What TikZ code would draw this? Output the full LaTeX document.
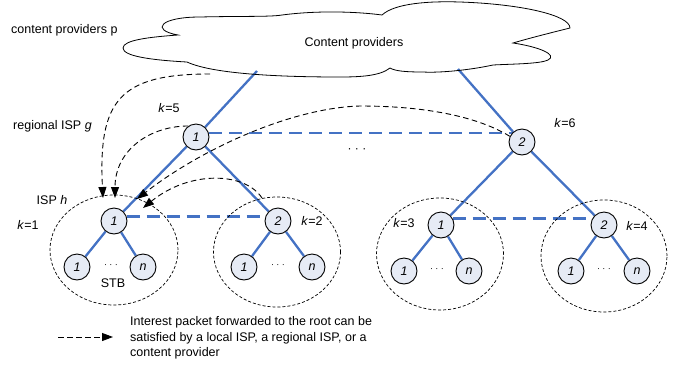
\documentclass[tikz,border=0pt]{standalone}
\usepackage{fontspec}
\setmainfont{Liberation Sans}
\usetikzlibrary{arrows.meta,shapes.geometric,backgrounds}
\definecolor{tblue}{HTML}{4472C4}
\definecolor{nfill}{HTML}{E6EBF5}
\begin{document}
\begin{tikzpicture}[x=1pt,y=-1pt,
  font=\fontsize{12.5}{15.5}\selectfont,
  nd/.style={circle,draw=black,line width=0.9pt,fill=nfill,minimum size=26pt,inner sep=0pt,font=\fontsize{12.5}{15}\selectfont\itshape},
  tree/.style={tblue,line width=2.3pt},
  peer/.style={tblue,line width=2.5pt,dash pattern=on 13pt off 7pt},
  isp/.style={ellipse,draw=black,line width=0.7pt,dash pattern=on 3pt off 2pt,inner sep=0pt},
  fwd/.style={black,line width=0.9pt,dash pattern=on 5.5pt off 3.5pt,-{Triangle[length=11pt,width=8pt]}},
  lbl/.style={inner sep=0pt}]
\useasboundingbox (0,0) rectangle (689,368);

% cloud
\draw[line width=0.8pt] (178,35)
  .. controls (150,30) and (160,17) .. (200,17)
  .. controls (240,16) and (270,17) .. (282,15)
  .. controls (320,10) and (360,12) .. (382,15)
  .. controls (395,3) and (430,1) .. (460,2)
  .. controls (520,4) and (570,15) .. (570,28)
  .. controls (550,33) and (530,38) .. (513,43)
  .. controls (540,47) and (558,55) .. (548,60)
  .. controls (540,64) and (510,64) .. (493,65)
  .. controls (470,70) and (440,73) .. (423,72)
  .. controls (405,72) and (395,71) .. (390,68)
  .. controls (380,76) and (360,77) .. (340,77)
  .. controls (290,77) and (215,75) .. (187,62)
  .. controls (150,60) and (123,56) .. (123,48)
  .. controls (123,40) and (150,37) .. (178,35) -- cycle;
\node[lbl] (cp) at (354,43) {Content providers};
\coordinate (cA) at (257,71);
\coordinate (cB) at (458,69);
\coordinate (cC) at (210,74);

% ISP ellipses
\node[isp,minimum width=128pt,minimum height=110pt] (e1) at (114,250) {};
\node[isp,minimum width=127pt,minimum height=110pt] (e2) at (277,252) {};
\node[isp,minimum width=127pt,minimum height=112pt] (e3) at (440,254) {};
\node[isp,minimum width=126pt,minimum height=112pt] (e4) at (604,256) {};

% nodes
\node[nd] (R1) at (196,137) {1};
\node[nd] (R2) at (522,142) {2};
\node[nd] (L1) at (114,221) {1};
\node[nd] (L2) at (278,221) {2};
\node[nd] (L3) at (441,225) {1};
\node[nd] (L4) at (604,225) {2};
\node[nd] (S11) at (77,267) {1};
\node[nd] (S1n) at (143,267) {n};
\node[nd] (S21) at (244,267) {1};
\node[nd] (S2n) at (312,267) {n};
\node[nd] (S31) at (404,271) {1};
\node[nd] (S3n) at (469,271) {n};
\node[nd] (S41) at (571,271) {1};
\node[nd] (S4n) at (637,271) {n};

\begin{scope}[on background layer]
  \draw[tree] (cA) -- (R1);
  \draw[tree] (cB) -- (R2);
  \draw[tree] (R1) -- (L1);
  \draw[tree] (R1) -- (L2);
  \draw[tree] (R2) -- (L3);
  \draw[tree] (R2) -- (L4);
  \draw[tree] (L1) -- (S11);
  \draw[tree] (L1) -- (S1n);
  \draw[tree] (L2) -- (S21);
  \draw[tree] (L2) -- (S2n);
  \draw[tree] (L3) -- (S31);
  \draw[tree] (L3) -- (S3n);
  \draw[tree] (L4) -- (S41);
  \draw[tree] (L4) -- (S4n);
  \draw[peer] (R1.17) -- (R1.17 -| R2);
  \draw[peer] (L1.20) -- (L1.20 -| L2);
  \draw[peer] (L3.30) -- (L3.30 -| L4);
\end{scope}

% dots
\node[lbl,font=\fontsize{9}{9}\selectfont] (d1) at (111,266) {· · ·};
\node[lbl,font=\fontsize{9}{9}\selectfont] (d2) at (278,266) {· · ·};
\node[lbl,font=\fontsize{9}{9}\selectfont] (d3) at (437,270) {· · ·};
\node[lbl,font=\fontsize{9}{9}\selectfont] (d4) at (604,270) {· · ·};
\node[lbl,font=\fontsize{12}{12}\selectfont] (d5) at (357,151) {· · ·};

% labels
\node[lbl,anchor=west] (tp) at (11,30) {content providers p};
\node[lbl,anchor=west] (tg) at (13,126) {regional ISP \textit{g}};
\node[lbl] (k5) at (169,108) {\textit{k}=5};
\node[lbl] (k6) at (565,123) {\textit{k}=6};
\node[lbl] (th) at (52,200) {ISP \textit{h}};
\node[lbl] (k1) at (28,225) {\textit{k}=1};
\node[lbl] (k2) at (312,221) {\textit{k}=2};
\node[lbl] (k3) at (404,223) {\textit{k}=3};
\node[lbl] (k4) at (637,226) {\textit{k}=4};
\node[lbl] (stb) at (113,283) {STB};

% forwarding arrows
\coordinate (t1) at (103,198);
\coordinate (t2) at (115,198);
\coordinate (t3) at (137,199);
\coordinate (t4) at (143,208);
\coordinate (s4) at (262,198);
\draw[fwd] (cC) .. controls (120,74) and (98,100) .. (t1);
\draw[fwd] (R1.125) .. controls (150,126) and (115,150) .. (t2);
\draw[fwd] (R2.155) .. controls (480,118) and (430,106) .. (360,106)
  .. controls (290,108) and (200,150) .. (t3);
\draw[fwd] (s4) .. controls (245,172) and (190,170) .. (t4);

% legend
\coordinate (lg1) at (58,337);
\coordinate (lg2) at (113,337);
\draw[fwd] (lg1) -- (lg2);
\node[lbl,anchor=west,align=left] (leg) at (130,338) {Interest packet forwarded to the root can be\\satisfied by a local ISP, a regional ISP, or a\\content provider};
\end{tikzpicture}
\end{document}
